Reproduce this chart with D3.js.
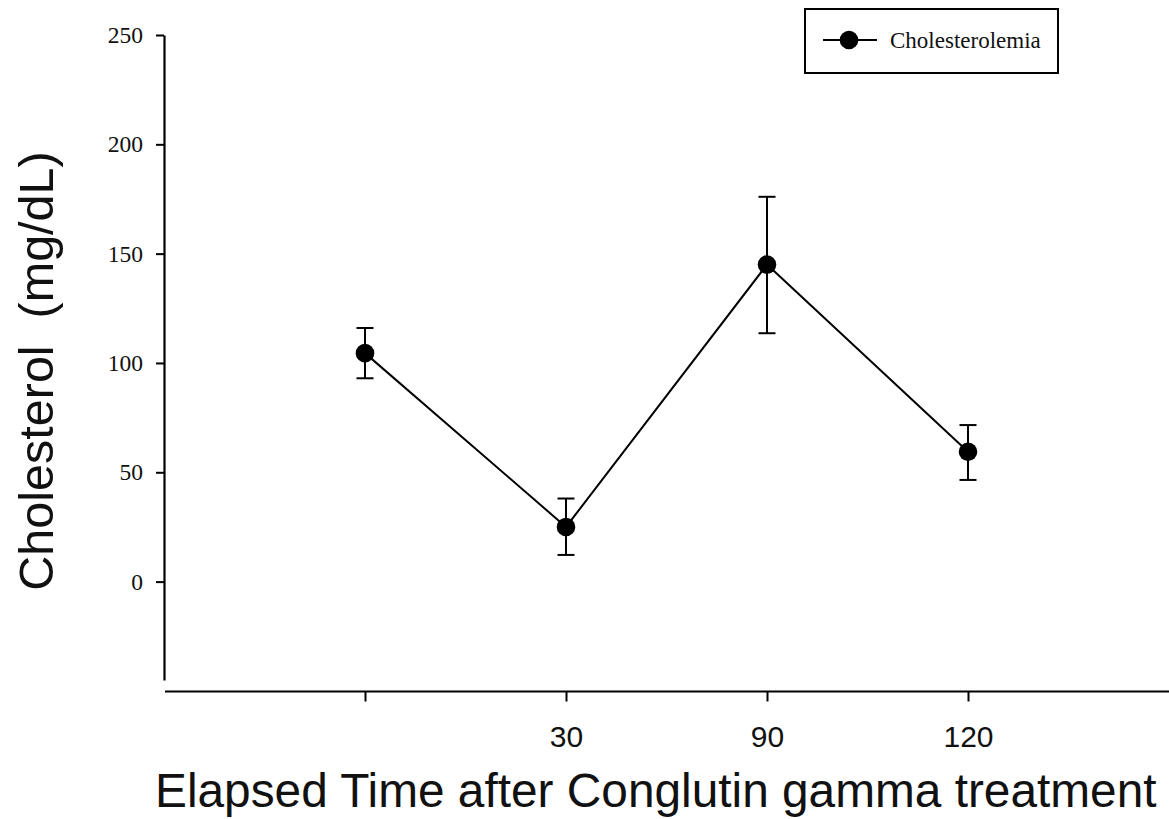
<!DOCTYPE html>
<html>
<head>
<meta charset="utf-8">
<script src="https://cdn.jsdelivr.net/npm/d3@7"></script>
<style>
  html, body { margin: 0; padding: 0; background: #fff; }
  svg { display: block; }
  .serif { font-family: "Liberation Serif", "Times New Roman", serif; }
  .sans { font-family: "Liberation Sans", Arial, sans-serif; }
</style>
</head>
<body>
<svg id="chart" width="1169" height="819"></svg>
<script>
// Time points after treatment (minutes) and their axis labels
const timeKeys = ["0", "30", "90", "120"];
const timeLabels = ["", "30", "90", "120"];
// Mean cholesterol (mg/dL) with upper / lower error limits
const cholMean = [104.5, 25, 145, 59.4];
const cholUpper = [116, 38, 176, 71.6];
const cholLower = [93, 12.2, 113.6, 46.5];
const yTicks = [0, 50, 100, 150, 200, 250];
const seriesName = "Cholesterolemia";

const svg = d3.select("#chart");

const x = d3.scalePoint().domain(timeKeys).range([164, 1169]).padding(1);
const y = d3.scaleLinear().domain([-45, 250]).range([680, 35]);

// Y axis
const yAxis = svg.append("g")
  .attr("transform", "translate(164,0)")
  .call(d3.axisLeft(y).tickValues(yTicks).tickSize(8).tickSizeOuter(0).tickPadding(13));
yAxis.select(".domain").attr("stroke-width", 2.2);
yAxis.selectAll(".tick line").attr("stroke-width", 2);
yAxis.selectAll(".tick text")
  .attr("class", "serif")
  .attr("font-size", 23.5)
  .attr("fill", "#111");

// X axis (drawn a little below the end of the y axis)
const xAxis = svg.append("g")
  .attr("transform", "translate(0,691.5)")
  .call(d3.axisBottom(x).tickFormat((d, i) => timeLabels[i]).tickSize(10).tickSizeOuter(0).tickPadding(24));
xAxis.select(".domain").attr("d", "M165,0H1169").attr("stroke-width", 2.2);
xAxis.selectAll(".tick line").attr("stroke-width", 2);
xAxis.selectAll(".tick text")
  .attr("class", "sans")
  .attr("font-size", 30)
  .attr("fill", "#111");

// Axis titles
svg.append("text")
  .attr("class", "sans")
  .attr("font-size", 47.8)
  .attr("fill", "#111")
  .attr("x", 155)
  .attr("y", 807)
  .text("Elapsed Time after Conglutin gamma treatment");

svg.append("text")
  .attr("class", "sans")
  .attr("font-size", 48.5)
  .attr("fill", "#111")
  .attr("text-anchor", "middle")
  .attr("transform", "translate(53,371) rotate(-90)")
  .style("white-space", "pre")
  .text("Cholesterol  (mg/dL)");

// Connecting line
const line = d3.line()
  .x((d, i) => x(timeKeys[i]))
  .y(d => y(d));
svg.append("path")
  .datum(cholMean)
  .attr("d", line)
  .attr("fill", "none")
  .attr("stroke", "#000")
  .attr("stroke-width", 2);

// Error bars
const capHalf = 8.5;
const err = svg.append("g").attr("stroke", "#000").attr("stroke-width", 2);
timeKeys.forEach((k, i) => {
  const cx = x(k);
  err.append("line").attr("x1", cx).attr("x2", cx).attr("y1", y(cholUpper[i])).attr("y2", y(cholLower[i]));
  err.append("line").attr("x1", cx - capHalf).attr("x2", cx + capHalf).attr("y1", y(cholUpper[i])).attr("y2", y(cholUpper[i]));
  err.append("line").attr("x1", cx - capHalf).attr("x2", cx + capHalf).attr("y1", y(cholLower[i])).attr("y2", y(cholLower[i]));
});

// Points
svg.append("g").selectAll("circle")
  .data(cholMean)
  .join("circle")
  .attr("cx", (d, i) => x(timeKeys[i]))
  .attr("cy", d => y(d))
  .attr("r", 9.3)
  .attr("fill", "#000");

// Legend
const lg = svg.append("g");
lg.append("rect")
  .attr("x", 805).attr("y", 9).attr("width", 253).attr("height", 64)
  .attr("fill", "#fff").attr("stroke", "#000").attr("stroke-width", 2);
lg.append("line")
  .attr("x1", 823).attr("x2", 877).attr("y1", 40).attr("y2", 40)
  .attr("stroke", "#000").attr("stroke-width", 2);
lg.append("circle").attr("cx", 849).attr("cy", 40).attr("r", 9.3).attr("fill", "#000");
lg.append("text")
  .attr("class", "serif")
  .attr("font-size", 23)
  .attr("fill", "#111")
  .attr("x", 890).attr("y", 48)
  .text(seriesName);
</script>
</body>
</html>
